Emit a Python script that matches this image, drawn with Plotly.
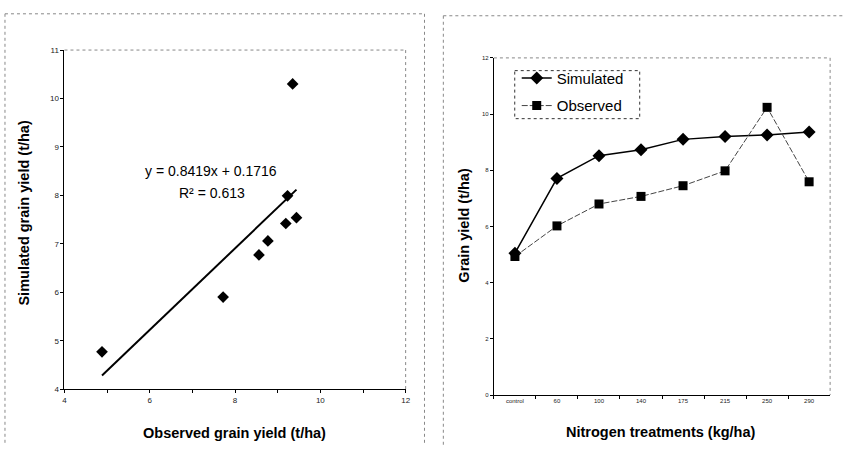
import plotly.graph_objects as go

# ---------------- data ----------------
# Left panel: scatter of observed (x) vs simulated (y) grain yield
scatter_obs = [4.88, 7.72, 8.56, 8.77, 9.19, 9.23, 9.35, 9.44]
scatter_sim = [4.77, 5.90, 6.77, 7.06, 7.42, 7.99, 10.30, 7.54]
slope = 0.8419
intercept = 0.1716
r2 = 0.613

# Right panel: yield by nitrogen treatment
treatments = ["control", "60", "100", "140", "175", "215", "250", "290"]
simulated = [5.05, 7.71, 8.52, 8.73, 9.10, 9.20, 9.26, 9.36]
observed = [4.93, 6.02, 6.80, 7.07, 7.45, 7.98, 10.24, 7.59]

left_xticks = [4, 6, 8, 10, 12]
left_yticks = [4, 5, 6, 7, 8, 9, 10, 11]
right_yticks = [0, 2, 4, 6, 8, 10, 12]

W, H = 850, 450
FONT = "Arial, Liberation Sans, sans-serif"


def px(x):
    return x / W


def py(y):
    return 1 - y / H


fig = go.Figure()

# Left scatter
fig.add_trace(go.Scatter(
    x=scatter_obs, y=scatter_sim, mode="markers",
    marker=dict(symbol="diamond", size=9, color="black"),
    xaxis="x", yaxis="y", showlegend=False))

# Trend line over data range
x0, x1 = min(scatter_obs), max(scatter_obs)
fig.add_trace(go.Scatter(
    x=[x0, x1], y=[slope * x0 + intercept, slope * x1 + intercept],
    mode="lines", line=dict(color="black", width=2),
    xaxis="x", yaxis="y", showlegend=False))

# Right line chart
fig.add_trace(go.Scatter(
    x=treatments, y=simulated, mode="lines+markers", name="Simulated",
    line=dict(color="black", width=1.5),
    marker=dict(symbol="diamond", size=10, color="black"),
    xaxis="x2", yaxis="y2", legendgroup="a"))
fig.add_trace(go.Scatter(
    x=treatments, y=observed, mode="lines+markers", name="Observed",
    line=dict(color="#444444", width=1, dash="6px,2px"),
    marker=dict(symbol="square", size=9, color="black"),
    xaxis="x2", yaxis="y2", legendgroup="b"))

axis_common = dict(showgrid=False, zeroline=False, showline=True,
                   linecolor="black", linewidth=1, ticks="outside",
                   ticklen=3, tickcolor="black")

fig.update_layout(
    width=W, height=H,
    margin=dict(l=0, r=0, t=0, b=0),
    paper_bgcolor="white", plot_bgcolor="white",
    font=dict(family=FONT, color="black"),
    xaxis=dict(domain=[px(63), px(407)], range=[4, 12], tickvals=left_xticks,
               tickfont=dict(size=8, color="#222"),
               minor=dict(dtick=1, ticks="outside", ticklen=3, tickcolor="black"),
               anchor="y", **axis_common),
    yaxis=dict(domain=[py(393), py(47)], range=[4, 11], tickvals=left_yticks,
               tickfont=dict(size=8, color="#222"), anchor="x", **axis_common),
    xaxis2=dict(domain=[px(496), px(835)], range=[-0.5, 7.5], type="category",
                tickson="boundaries", tickfont=dict(size=6, color="#222"),
                anchor="y2", **axis_common),
    yaxis2=dict(domain=[py(399), py(55)], range=[0, 12], tickvals=right_yticks,
                tickfont=dict(size=6, color="#222"), anchor="x2", **axis_common),
    legend=dict(x=px(519), y=py(59), xanchor="left", yanchor="top",
                bgcolor="rgba(0,0,0,0)", borderwidth=0,
                font=dict(size=15, family=FONT, color="black"),
                traceorder="grouped", tracegroupgap=5),
)

annotations = [
    dict(text="<b>Simulated grain yield (t/ha)</b>", x=px(22), y=py(213),
         textangle=-90, font=dict(size=14.5)),
    dict(text="<b>Observed grain yield (t/ha)</b>", x=px(234), y=py(438),
         font=dict(size=14.5)),
    dict(text="<b>Grain yield (t/ha)</b>", x=px(466), y=py(226),
         textangle=-90, font=dict(size=14.5)),
    dict(text="<b>Nitrogen treatments (kg/ha)</b>", x=px(664), y=py(437),
         font=dict(size=14.5)),
    dict(text=f"y = {slope}x + {intercept}", x=px(211), y=py(170),
         font=dict(size=14)),
    dict(text=f"R² = {r2}", x=px(212), y=py(193), font=dict(size=14)),
]
for a in annotations:
    a.update(xref="paper", yref="paper", showarrow=False,
             xanchor="center", yanchor="middle")
fig.update_layout(annotations=annotations)

dot = dict(color="#888888", width=1, dash="dot")
lines = [
    # left panel frame
    (3, 10, 426, 10), (3, 10, 3, 450), (426, 10, 426, 450),
    # right panel frame
    (445, 12, 850, 12), (445, 12, 445, 450),
    # plot area top/right borders
    (63, 47, 407, 47), (407, 47, 407, 393),
    (496, 55, 835, 55), (835, 55, 835, 399),
]
shapes = [dict(type="line", xref="paper", yref="paper",
               x0=px(a), y0=py(b), x1=px(c), y1=py(d), line=dot)
          for a, b, c, d in lines]
shapes.append(dict(type="rect", xref="paper", yref="paper",
                   x0=px(517), y0=py(68), x1=px(643), y1=py(117),
                   line=dict(color="#333333", width=1, dash="dot")))
fig.update_layout(shapes=shapes)

fig.write_html("out.html",
               config={"displayModeBar": False},
               post_script="document.body.style.margin='0';"
                           "document.body.style.overflow='hidden';")
